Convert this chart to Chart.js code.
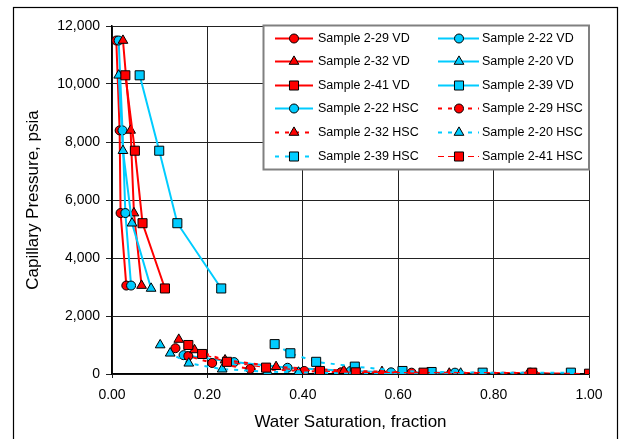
<!DOCTYPE html>
<html>
<head>
<meta charset="utf-8">
<script src="https://cdn.jsdelivr.net/npm/chart.js@4.4.1/dist/chart.umd.min.js"></script>
<style>
  html, body { margin: 0; padding: 0; background: #fff; overflow: hidden; }
  canvas { display: block; }
</style>
</head>
<body>
<canvas id="pc" width="620" height="439"></canvas>
<script>
// Capillary pressure vs water saturation (VD and HSC samples)

const seriesNames = [
  'Sample 2-29 VD', 'Sample 2-22 VD', 'Sample 2-32 VD', 'Sample 2-20 VD',
  'Sample 2-41 VD', 'Sample 2-39 VD', 'Sample 2-22 HSC', 'Sample 2-29 HSC',
  'Sample 2-32 HSC', 'Sample 2-20 HSC', 'Sample 2-39 HSC', 'Sample 2-41 HSC'
];

const xTicks = [0, 0.2, 0.4, 0.6, 0.8, 1.0];
const yTicks = [0, 2000, 4000, 6000, 8000, 10000, 12000];

// VD pressure steps (psia)
const pcVdA = [11500, 8400, 5550, 3050];
const pcVdB = [10300, 7700, 5200, 2950];

// VD water saturations
const sw29VD = [0.009, 0.016, 0.018, 0.030];
const sw22VD = [0.014, 0.022, 0.028, 0.040];
const sw32VD = [0.023, 0.039, 0.046, 0.062];
const sw20VD = [0.014, 0.023, 0.042, 0.082];
const sw41VD = [0.028, 0.048, 0.064, 0.111];
const sw39VD = [0.058, 0.099, 0.137, 0.229];

// HSC curves
const sw22HSC = [0.150, 0.256, 0.368, 0.500, 0.585, 0.719];
const pc22HSC = [650, 410, 215, 100, 58, 46];
const sw29HSC = [0.133, 0.160, 0.210, 0.290, 0.403, 0.480, 0.628, 0.877];
const pc29HSC = [890, 620, 380, 175, 105, 58, 46, 46];
const sw32HSC = [0.140, 0.173, 0.237, 0.344, 0.486, 0.566, 0.707, 0.887];
const pc32HSC = [1190, 830, 480, 250, 115, 80, 23, 15];
const sw20HSC = [0.101, 0.122, 0.161, 0.231, 0.326, 0.391, 0.515, 0.731];
const pc20HSC = [1000, 715, 370, 165, 81, 58, 15, 23];
const sw39HSC = [0.341, 0.374, 0.428, 0.509, 0.609, 0.670, 0.777, 0.962];
const pc39HSC = [1030, 715, 420, 254, 104, 69, 46, 46];
const sw41HSC = [0.160, 0.189, 0.241, 0.323, 0.436, 0.511, 0.653, 0.881, 1.000];
const pc41HSC = [1000, 690, 420, 220, 104, 58, 46, 46, 10];

const seriesX = [sw29VD, sw22VD, sw32VD, sw20VD, sw41VD, sw39VD,
                 sw22HSC, sw29HSC, sw32HSC, sw20HSC, sw39HSC, sw41HSC];
const seriesY = [pcVdA, pcVdA, pcVdA, pcVdB, pcVdB, pcVdB,
                 pc22HSC, pc29HSC, pc32HSC, pc20HSC, pc39HSC, pc41HSC];

const RED = '#FF0000';
const CYAN = '#00CCFF';
const styles = [
  { c: RED,  shape: 'circle',   dash: [],     w: 2 },
  { c: CYAN, shape: 'circle',   dash: [],     w: 2 },
  { c: RED,  shape: 'triangle', dash: [],     w: 2 },
  { c: CYAN, shape: 'triangle', dash: [],     w: 2 },
  { c: RED,  shape: 'rect',     dash: [],     w: 2 },
  { c: CYAN, shape: 'rect',     dash: [],     w: 2 },
  { c: CYAN, shape: 'circle',   dash: [],     w: 2 },
  { c: RED,  shape: 'circle',   dash: [4, 6], w: 2 },
  { c: RED,  shape: 'triangle', dash: [4, 6], w: 2 },
  { c: CYAN, shape: 'triangle', dash: [4, 6], w: 2 },
  { c: CYAN, shape: 'rect',     dash: [4, 6], w: 2 },
  { c: RED,  shape: 'rect',     dash: [6, 4], w: 1.2 }
];
const radius = { circle: 4.5, triangle: 5.6, rect: 6.4 };

const FONT = '"Liberation Sans", Arial, sans-serif';

const datasets = seriesNames.map((name, i) => ({
  label: name,
  data: seriesX[i].map((x, k) => ({ x: x, y: seriesY[i][k] })),
  showLine: true,
  borderColor: styles[i].c,
  borderWidth: styles[i].w,
  borderDash: styles[i].dash,
  backgroundColor: styles[i].c,
  pointStyle: styles[i].shape,
  pointRadius: radius[styles[i].shape],
  pointBorderColor: '#000',
  pointBorderWidth: 1,
  pointBackgroundColor: styles[i].c,
  order: -i
}));

function marker(ctx, shape, x, y, color) {
  const r = radius[shape];
  ctx.save();
  ctx.setLineDash([]);
  ctx.fillStyle = color;
  ctx.strokeStyle = '#000';
  ctx.lineWidth = 1;
  ctx.beginPath();
  if (shape === 'circle') {
    ctx.arc(x, y, r, 0, Math.PI * 2);
  } else if (shape === 'rect') {
    const s = r * Math.SQRT1_2;
    ctx.rect(x - s, y - s, 2 * s, 2 * s);
  } else {
    let a = 0;
    ctx.moveTo(x + Math.sin(a) * r, y - Math.cos(a) * r);
    a += Math.PI * 2 / 3;
    ctx.lineTo(x + Math.sin(a) * r, y - Math.cos(a) * r);
    a += Math.PI * 2 / 3;
    ctx.lineTo(x + Math.sin(a) * r, y - Math.cos(a) * r);
    ctx.closePath();
  }
  ctx.fill();
  ctx.stroke();
  ctx.restore();
}

// outer frame of the picture
const framePlugin = {
  id: 'frame',
  beforeDraw(chart) {
    const ctx = chart.ctx;
    ctx.save();
    ctx.fillStyle = '#fff';
    ctx.fillRect(0, 0, chart.width, chart.height);
    ctx.strokeStyle = '#000';
    ctx.lineWidth = 1.2;
    ctx.strokeRect(13.5, 7.5, 604, 460);
    ctx.restore();
  }
};

// legend box inside the plot, line + marker for each series
const legendPlugin = {
  id: 'boxLegend',
  afterDraw(chart) {
    const ctx = chart.ctx;
    const box = { x: 263.5, y: 25.5, w: 325.5, h: 144 };
    ctx.save();
    ctx.fillStyle = '#fff';
    ctx.fillRect(box.x, box.y, box.w, box.h);
    ctx.strokeStyle = '#808080';
    ctx.lineWidth = 2;
    ctx.strokeRect(box.x, box.y, box.w, box.h);

    const cols = [
      { l0: 275, l1: 313, m: 294, t: 318 },
      { l0: 438, l1: 479, m: 459, t: 482 }
    ];
    const rowY0 = 37.5, rowStep = 23.6;
    ctx.font = '12.5px ' + FONT;
    ctx.textBaseline = 'middle';
    ctx.textAlign = 'left';
    seriesNames.forEach((name, i) => {
      const col = cols[i % 2];
      const y = Math.round(rowY0 + Math.floor(i / 2) * rowStep) + 0.5;
      const st = styles[i];
      ctx.save();
      ctx.strokeStyle = st.c;
      ctx.lineWidth = st.w;
      ctx.setLineDash(st.dash);
      ctx.lineDashOffset = st.dash.length ? -0 : 0;
      ctx.beginPath();
      ctx.moveTo(col.l0, y);
      ctx.lineTo(col.l1, y);
      ctx.stroke();
      ctx.restore();
      marker(ctx, st.shape, col.m, y, st.c);
      ctx.fillStyle = '#000';
      ctx.fillText(name, col.t, y);
    });
    ctx.restore();
  }
};

new Chart(document.getElementById('pc'), {
  type: 'scatter',
  data: { datasets: datasets },
  options: {
    responsive: false,
    animation: false,
    devicePixelRatio: 1,
    layout: { padding: { left: 23, top: 26, right: 31, bottom: 6 } },
    plugins: {
      legend: { display: false },
      tooltip: { enabled: false }
    },
    scales: {
      x: {
        type: 'linear',
        min: 0,
        max: 1,
        afterBuildTicks(scale) { scale.ticks = xTicks.map(v => ({ value: v })); },
        afterFit(scale) { scale.height = 59; },
        grid: { color: '#222', lineWidth: 1, tickLength: 4, drawTicks: true },
        border: { color: '#000', width: 1.5 },
        ticks: {
          color: '#000',
          padding: 9,
          maxRotation: 0,
          font: { family: FONT, size: 14 },
          callback: v => Number(v).toFixed(2)
        },
        title: {
          display: true,
          text: 'Water Saturation, fraction',
          color: '#000',
          padding: 0,
          font: { family: FONT, size: 17 }
        }
      },
      y: {
        type: 'linear',
        min: 0,
        max: 12000,
        afterBuildTicks(scale) { scale.ticks = yTicks.map(v => ({ value: v })); },
        afterFit(scale) { scale.width = 89; },
        grid: { color: '#222', lineWidth: 1, tickLength: 6, drawTicks: true },
        border: { color: '#000', width: 1.5 },
        ticks: {
          color: '#000',
          padding: 6,
          font: { family: FONT, size: 14 },
          callback: v => Number(v).toLocaleString('en-US')
        },
        title: {
          display: true,
          text: 'Capillary Pressure, psia',
          color: '#000',
          padding: 0,
          font: { family: FONT, size: 17 }
        }
      }
    }
  },
  plugins: [framePlugin, legendPlugin]
});
</script>
</body>
</html>
